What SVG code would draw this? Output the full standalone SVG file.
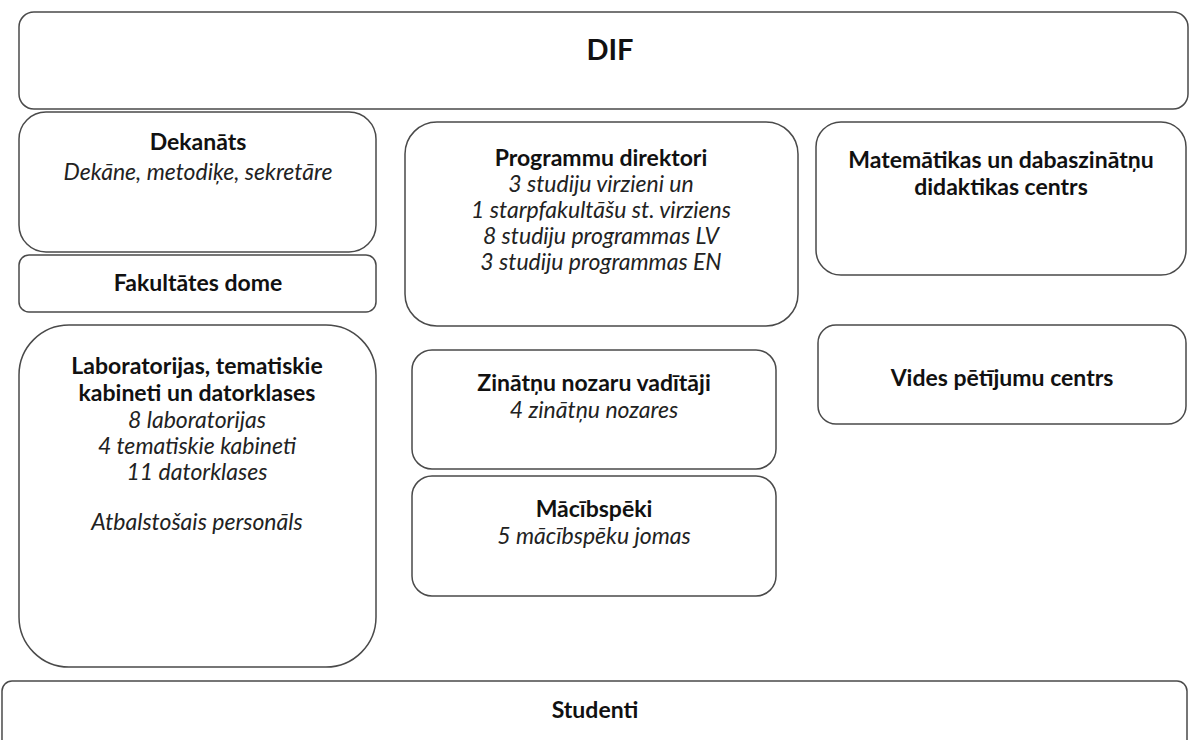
<svg xmlns="http://www.w3.org/2000/svg" width="1189" height="740" viewBox="0 0 1189 740">
<style>
.box{fill:#ffffff;stroke:#4a4a4a;stroke-width:1.5}
.b{font-family:Lato,"Liberation Sans",sans-serif;font-weight:bold;font-size:23px;fill:#111;text-anchor:middle}
.i{font-family:Lato,"Liberation Sans",sans-serif;font-style:italic;font-size:23px;fill:#222;text-anchor:middle}
</style>
<rect width="1189" height="740" fill="#ffffff"/>
<g id="connectors"></g>
<g id="dif">
<rect class="box" x="19" y="12" width="1169" height="97" rx="15"/>
<text class="b" x="610" y="60" style="font-size:29px">DIF</text>
</g>
<g id="dekanats">
<rect class="box" x="19" y="112" width="357" height="140" rx="27"/>
<text class="b" x="198" y="150">Dekanāts</text>
<text class="i" x="198" y="180">Dekāne, metodiķe, sekretāre</text>
</g>
<g id="fakultates-dome">
<rect class="box" x="19" y="255" width="357" height="57" rx="10"/>
<text class="b" x="198" y="291">Fakultātes dome</text>
</g>
<g id="laboratorijas">
<rect class="box" x="19" y="325" width="357" height="342" rx="50"/>
<text class="b" x="197" y="374">Laboratorijas, tematiskie</text>
<text class="b" x="197" y="401">kabineti un datorklases</text>
<text class="i" x="197" y="428">8 laboratorijas</text>
<text class="i" x="197" y="454">4 tematiskie kabineti</text>
<text class="i" x="197" y="480">11 datorklases</text>
<text class="i" x="197" y="530">Atbalstošais personāls</text>
</g>
<g id="programmu-direktori">
<rect class="box" x="405" y="122" width="393" height="204" rx="32"/>
<text class="b" x="601" y="166">Programmu direktori</text>
<text class="i" x="601" y="192">3 studiju virzieni un</text>
<text class="i" x="601" y="218">1 starpfakultāšu st. virziens</text>
<text class="i" x="601" y="244">8 studiju programmas LV</text>
<text class="i" x="601" y="270">3 studiju programmas EN</text>
</g>
<g id="zinatnu-nozaru-vaditaji">
<rect class="box" x="412" y="350" width="364" height="119" rx="20"/>
<text class="b" x="594" y="391">Zinātņu nozaru vadītāji</text>
<text class="i" x="594" y="418">4 zinātņu nozares</text>
</g>
<g id="macibspeki">
<rect class="box" x="412" y="476" width="364" height="120" rx="20"/>
<text class="b" x="594" y="517">Mācībspēki</text>
<text class="i" x="594" y="544">5 mācībspēku jomas</text>
</g>
<g id="matematikas-centrs">
<rect class="box" x="816" y="122" width="370" height="153" rx="25"/>
<text class="b" x="1001" y="168">Matemātikas un dabaszinātņu</text>
<text class="b" x="1001" y="195">didaktikas centrs</text>
</g>
<g id="vides-centrs">
<rect class="box" x="818" y="325" width="368" height="99" rx="18"/>
<text class="b" x="1002" y="386">Vides pētījumu centrs</text>
</g>
<g id="studenti">
<rect class="box" x="2" y="681" width="1185" height="80" rx="10"/>
<text class="b" x="595" y="718">Studenti</text>
</g>
</svg>
